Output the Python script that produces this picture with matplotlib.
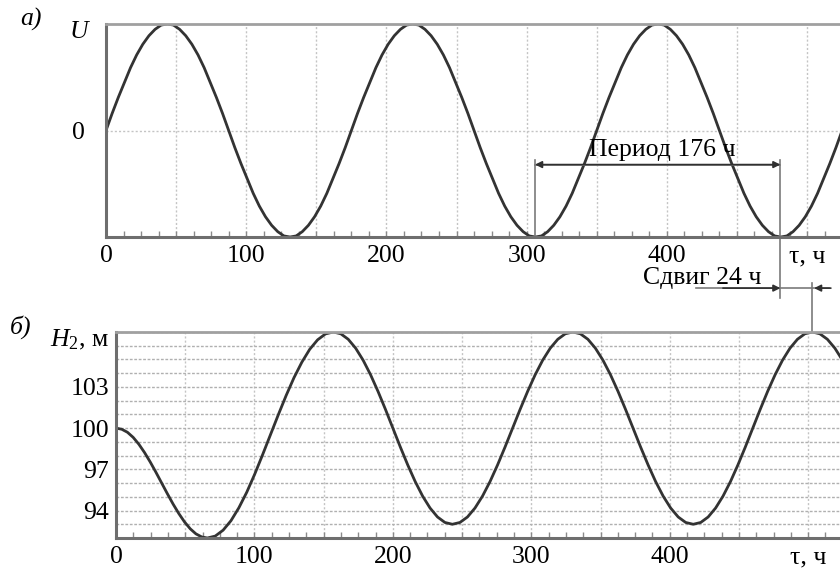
import numpy as np
from matplotlib import pyplot as plt
from matplotlib.ticker import FixedLocator, MultipleLocator

plt.rcParams['font.family'] = ['Liberation Serif', 'DejaVu Serif']
plt.rcParams['mathtext.fontset'] = 'custom'
plt.rcParams['mathtext.rm'] = 'Liberation Serif'
plt.rcParams['mathtext.it'] = 'Liberation Serif:italic'

# panel a) - U, sampled every 4.375 h
u_t = np.arange(0, 525.1, 4.375)
u_val = [0, .16, .31, .45, .59, .71, .81, .89, .95, .99, 1, .99, .95, .89, .81, .71, .59, .45, .31, .16,
         0, -.16, -.31, -.45, -.59, -.71, -.81, -.89, -.95, -.99, -1, -.99, -.95, -.89, -.81, -.71, -.59, -.45, -.31, -.16,
         0, .16, .31, .45, .59, .71, .81, .89, .95, .99, 1, .99, .95, .89, .81, .71, .59, .45, .31, .16,
         0, -.16, -.31, -.45, -.59, -.71, -.81, -.89, -.95, -.99, -1, -.99, -.95, -.89, -.81, -.71, -.59, -.45, -.31, -.16,
         0, .16, .31, .45, .59, .71, .81, .89, .95, .99, 1, .99, .95, .89, .81, .71, .59, .45, .31, .16,
         0, -.16, -.31, -.45, -.59, -.71, -.81, -.89, -.95, -.99, -1, -.99, -.95, -.89, -.81, -.71, -.59, -.45, -.31, -.16,
         0]

# panel б) - H2, m
h_t = [0, 4.13, 8.25, 12.38, 16.5, 20.63, 24.75, 28.88, 33, 37.13, 41.25, 45.38, 49.5, 53.63, 57.75, 61.88, 66,
       71.69, 77.38, 83.06, 88.75, 94.44, 100.13, 105.81, 111.5, 117.19, 122.88, 128.56, 134.25, 139.94, 145.63, 151.31, 157,
       162.38, 167.75, 173.13, 178.5, 183.88, 189.25, 194.63, 200, 205.38, 210.75, 216.13, 221.5, 226.88, 232.25, 237.63, 243,
       248.44, 253.88, 259.31, 264.75, 270.19, 275.63, 281.06, 286.5, 291.94, 297.38, 302.81, 308.25, 313.69, 319.13, 324.56, 330,
       335.44, 340.88, 346.31, 351.75, 357.19, 362.63, 368.06, 373.5, 378.94, 384.38, 389.81, 395.25, 400.69, 406.13, 411.56, 417,
       422.38, 427.75, 433.13, 438.5, 443.88, 449.25, 454.63, 460, 465.38, 470.75, 476.13, 481.5, 486.88, 492.25, 497.63, 503,
       508.44, 513.88, 519.31, 524.75, 530.19]
h_val = [100, 99.92, 99.7, 99.33, 98.83, 98.22, 97.53, 96.78, 96.0, 95.22, 94.47, 93.78, 93.17, 92.67, 92.3, 92.08, 92.0,
         92.14, 92.57, 93.26, 94.2, 95.33, 96.63, 98.04, 99.5, 100.96, 102.37, 103.67, 104.8, 105.74, 106.43, 106.86, 107,
         106.87, 106.47, 105.82, 104.95, 103.89, 102.68, 101.37, 100, 98.63, 97.32, 96.11, 95.05, 94.18, 93.53, 93.13, 93,
         93.13, 93.53, 94.18, 95.05, 96.11, 97.32, 98.63, 100, 101.37, 102.68, 103.89, 104.95, 105.82, 106.47, 106.87, 107,
         106.87, 106.47, 105.82, 104.95, 103.89, 102.68, 101.37, 100, 98.63, 97.32, 96.11, 95.05, 94.18, 93.53, 93.13, 93,
         93.13, 93.53, 94.18, 95.05, 96.11, 97.32, 98.63, 100, 101.37, 102.68, 103.89, 104.95, 105.82, 106.47, 106.87, 107,
         106.87, 106.47, 105.82, 104.95, 103.89]

x_ticks = [0, 50, 100, 150, 200, 250, 300, 350, 400, 450, 500]
x_labels = ['0', '', '100', '', '200', '', '300', '', '400', '', 'τ, ч']
h_ticks = [94, 97, 100, 103]

period_start, period_end = 306, 481
shift_end = 504

W, H = 840, 575
fig = plt.figure(figsize=(8.4, 5.75), dpi=100)
ax1 = fig.add_axes([106 / W, 1 - 237 / H, 1 - 106 / W, 213 / H])
ax2 = fig.add_axes([116 / W, 1 - 538 / H, 1 - 116 / W, 206 / H])

curve = dict(color='#333333', lw=2.0)
ax1.plot(u_t, u_val, **curve)
ax2.plot(h_t, h_val, **curve)

for ax in (ax1, ax2):
    ax.spines['right'].set_visible(False)
    for s in ('left', 'bottom'):
        ax.spines[s].set_color('#6e6e6e')
        ax.spines[s].set_linewidth(2.2)
    ax.spines['top'].set_color('#a0a0a0')
    ax.spines['top'].set_linewidth(2.0)
    ax.xaxis.set_major_locator(FixedLocator(x_ticks))
    ax.set_xticklabels(x_labels)
    ax.xaxis.set_minor_locator(MultipleLocator(12.5))
    ax.tick_params(axis='x', which='both', direction='in', length=4, width=1, color='#8a8a8a',
                   labelsize=18.5, pad=6)
    ax.tick_params(axis='y', which='both', length=0, labelsize=18.5)
    ax.grid(axis='x', which='major', color='#c4c4c4', lw=1, ls=(0, (1.5, 1.5)))

ax1.set_xlim(0, 523.5)
ax1.set_ylim(-1, 1)
ax1.set_yticks([0])
ax1.set_yticklabels(['0'])
ax1.tick_params(axis='y', pad=15)
ax1.grid(axis='y', which='major', color='#c4c4c4', lw=1, ls=(0, (1.5, 1.5)))

ax2.set_xlim(0, 523)
ax2.set_ylim(92, 107)
ax2.set_yticks(h_ticks)
ax2.yaxis.set_minor_locator(MultipleLocator(1))
ax2.tick_params(axis='y', pad=5)
ax2.grid(axis='y', which='both', color='#b0b0b0', lw=1, ls=(0, (2, 1.2)))

# period annotation
gl = dict(color='#7a7a7a', lw=1.2, clip_on=False)
ax1.plot([period_start, period_start], [-1, -0.28], **gl)
ax1.plot([period_end, period_end], [-0.28, -1.57], **gl)
ax1.plot([period_start, period_end], [-0.32, -0.32], **gl)
ax1.annotate('', xy=(period_start, -0.32), xytext=(period_end, -0.32),
             arrowprops=dict(arrowstyle='<|-|>', color='#303030', lw=1.2, mutation_scale=10,
                             shrinkA=0, shrinkB=0))
ax1.text(397, -0.18, 'Период 176 ч', fontsize=18.5, ha='center', va='center')

# shift annotation
ax1.plot([421, shift_end + 12], [-1.48, -1.48], **gl)
ax1.annotate('', xy=(period_end, -1.48), xytext=(440, -1.48), annotation_clip=False,
             arrowprops=dict(arrowstyle='-|>', color='#303030', lw=1.2, mutation_scale=10,
                             shrinkA=0, shrinkB=0))
ax1.annotate('', xy=(shift_end + 1, -1.48), xytext=(shift_end + 13, -1.48), annotation_clip=False,
             arrowprops=dict(arrowstyle='-|>', color='#303030', lw=1.2, mutation_scale=10,
                             shrinkA=0, shrinkB=0))
ax1.text(425, -1.385, 'Сдвиг 24 ч', fontsize=18.5, ha='center', va='center', clip_on=False)
ax2.plot([503, 503], [107, 110.6], **gl)

fig.text(31 / W, 1 - 19 / H, 'а)', fontsize=18.5, style='italic', ha='center', va='center')
fig.text(79 / W, 1 - 32 / H, 'U', fontsize=18.5, style='italic', ha='center', va='center')
fig.text(21 / W, 1 - 327 / H, 'б)', fontsize=18.5, style='italic', ha='center', va='center')
fig.text(80 / W, 1 - 340 / H, '$H_2$, м', fontsize=18.5, ha='center', va='center')

fig.savefig('out.png', dpi=100)
